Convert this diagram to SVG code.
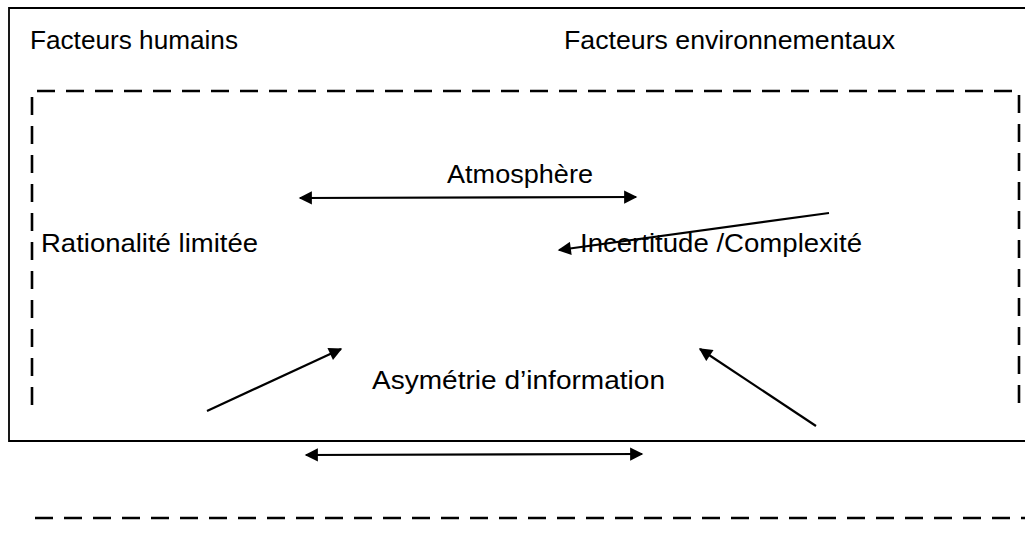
<svg xmlns="http://www.w3.org/2000/svg" width="1025" height="540" viewBox="0 0 1025 540">
<style>
.t{font-family:"Liberation Sans",Arial,sans-serif;font-size:26px;fill:#000}
.solid{fill:none;stroke:#000;stroke-width:1.8}
.dash{fill:none;stroke:#000;stroke-width:2.6;stroke-dasharray:18 11}
.c{stroke:#000;stroke-width:2.2;fill:none}
</style>
<defs>
<marker id="ah" viewBox="0 0 10 10" refX="9" refY="5" markerWidth="7" markerHeight="6" markerUnits="strokeWidth" orient="auto-start-reverse">
<path d="M0,0 L10,5 L0,10 z" fill="#000"/>
</marker>
</defs>
<rect width="1025" height="540" fill="#fff"/>
<g id="frame">
<path class="solid" d="M1026,8 H9 V441 H1026"/>
<path class="dash" d="M32,405 V91 H1019 V408"/>
<path class="dash" d="M35,518 H1025"/>
</g>
<g id="facteurs-humains"><text class="t" x="30" y="49" textLength="208" lengthAdjust="spacingAndGlyphs">Facteurs humains</text></g>
<g id="facteurs-environnementaux"><text class="t" x="564" y="49" textLength="331" lengthAdjust="spacingAndGlyphs">Facteurs environnementaux</text></g>
<g id="atmosphere"><text class="t" x="447" y="183" textLength="146" lengthAdjust="spacingAndGlyphs">Atmosphère</text></g>
<g id="rationalite"><text class="t" x="41" y="252" textLength="217" lengthAdjust="spacingAndGlyphs">Rationalité limitée</text></g>
<g id="incertitude"><text class="t" x="580" y="252" textLength="282" lengthAdjust="spacingAndGlyphs">Incertitude /Complexité</text></g>
<g id="asymetrie"><text class="t" x="372" y="389" textLength="293" lengthAdjust="spacingAndGlyphs">Asymétrie d’information</text></g>
<g id="connectors">
<line class="c" x1="300" y1="198" x2="636" y2="197" marker-start="url(#ah)" marker-end="url(#ah)"/>
<line class="c" x1="829" y1="213" x2="559" y2="250" marker-end="url(#ah)"/>
<line class="c" x1="207" y1="411" x2="341" y2="349" marker-end="url(#ah)"/>
<line class="c" x1="816" y1="426" x2="700" y2="349" marker-end="url(#ah)"/>
<line class="c" x1="306" y1="455" x2="642" y2="454" marker-start="url(#ah)" marker-end="url(#ah)"/>
</g>
</svg>
